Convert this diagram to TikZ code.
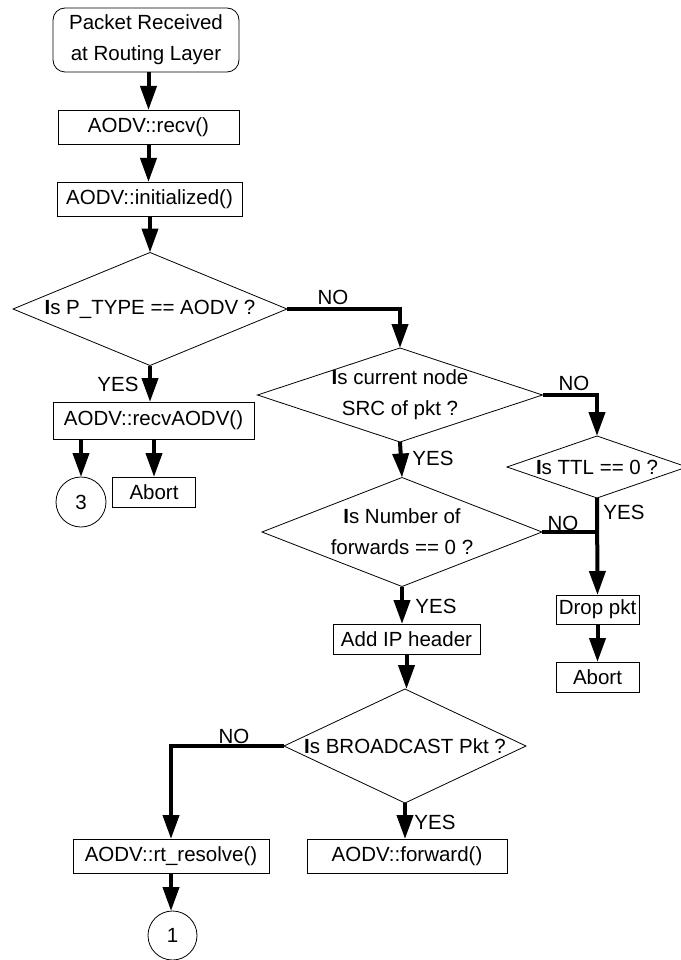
\documentclass[tikz,border=0pt]{standalone}
\usepackage{fontspec}
\setmainfont{Liberation Sans}
\usetikzlibrary{arrows.meta,shapes.geometric}
\begin{document}
\begin{tikzpicture}[x=1pt,y=-1pt,
  every node/.style={font=\fontsize{20.5}{31}\selectfont, outer sep=0pt},
  box/.style={draw, line width=0.8pt, inner sep=0pt},
  term/.style={draw, line width=0.8pt, inner sep=0pt, rounded corners=12pt, align=center},
  diam/.style={shape=diamond, draw, line width=0.8pt, inner sep=-4pt, align=center},
  conn/.style={line width=4pt, -{Triangle[width=16pt,length=24pt]}},
  plain/.style={line width=4pt},
  circ/.style={shape=circle, draw, line width=0.8pt, inner sep=0pt, minimum size=50pt},
  lbl/.style={inner sep=0pt}
]
\useasboundingbox (0,0) rectangle (680,960);

% nodes
\node[term, minimum width=186, minimum height=64] (start) at (146,40) {Packet Received\\at Routing Layer};
\node[box, minimum width=181, minimum height=34] (recv) at (148.5,127) {AODV::recv()};
\node[box, minimum width=185, minimum height=34] (init) at (149.5,199) {AODV::initialized()};
\node[diam, minimum width=274, minimum height=113, aspect=2.42] (d1) at (150,309) {\textbf{I}s P\_TYPE == AODV ?};
\node[box, minimum width=201, minimum height=37] (recva) at (153.5,420.5) {AODV::recvAODV()};
\node[circ] (c3) at (81,502) {3};
\node[box, minimum width=83, minimum height=30] (abort1) at (154,492) {Abort};
\node[diam, minimum width=285, minimum height=94, aspect=3.03] (d2) at (400,395) {\textbf{I}s current node\\SRC of pkt ?};
\node[diam, minimum width=180, minimum height=62, aspect=2.9] (d3) at (597,467) {\textbf{I}s TTL == 0 ?};
\node[diam, minimum width=280, minimum height=109, aspect=2.57] (d4) at (402,532) {\textbf{I}s Number of\\forwards == 0 ?};
\node[box, minimum width=83, minimum height=29] (drop) at (597.5,609.5) {Drop pkt};
\node[box, minimum width=83, minimum height=30] (abort2) at (597.5,677) {Abort};
\node[box, minimum width=147, minimum height=30] (addip) at (406.5,639) {Add IP header};
\node[diam, minimum width=242, minimum height=114, aspect=2.12] (d5) at (405,746) {\textbf{I}s BROADCAST Pkt ?};
\node[box, minimum width=196, minimum height=34] (rt) at (171,856) {AODV::rt\_resolve()};
\node[box, minimum width=200, minimum height=34] (fwd) at (407,856) {AODV::forward()};
\node[circ, minimum size=49pt] (c1) at (172.5,935.5) {1};

% connectors
\draw[conn] (recv.north |- start.south) -- (recv.north);
\draw[conn] (recv.south) -- (recv.south |- init.north);
\draw[conn] (d1.north |- init.south) -- (d1.north);
\draw[conn] (d1.south) -- (d1.south |- recva.north);
\draw[conn] (c3.north |- recva.south) -- (c3.north);
\draw[conn] (abort1.north |- recva.south) -- (abort1.north);
\draw[conn] (d1.east) -| (d2.north);
\draw[conn] (d2.east) -| (d3.north);
\draw[conn] (d2.south) -- (d4.north);
\draw[conn] (d3.south) -- (drop.north);
\draw[plain] (d4.east) -- (d4.east -| d3.south);
\draw[conn] (drop.south) -- (abort2.north);
\draw[conn] (d4.south) -- (d4.south |- addip.north);
\draw[conn] (addip.south) -- (addip.south |- d5.north);
\draw[conn] (d5.west) -| (rt.north);
\draw[conn] (d5.south) -- (d5.south |- fwd.north);
\draw[conn] (rt.south) -- (rt.south |- c1.north);

% labels
\node[lbl] (no1) at (333,297) {NO};
\node[lbl] (yes1) at (118,384) {YES};
\node[lbl] (no2) at (574,383) {NO};
\node[lbl] (yes2) at (433,458) {YES};
\node[lbl] (yes3) at (624,512) {YES};
\node[lbl] (no3) at (563,523) {NO};
\node[lbl] (yes4) at (436,606) {YES};
\node[lbl] (no5) at (234,736) {NO};
\node[lbl] (yes5) at (435,822) {YES};
\end{tikzpicture}
\end{document}
